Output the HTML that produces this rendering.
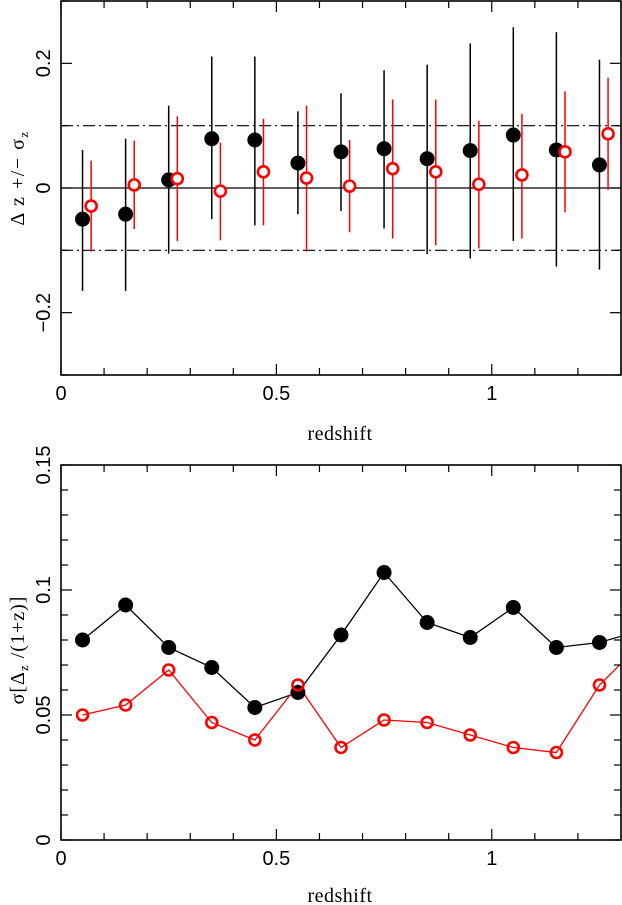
<!DOCTYPE html>
<html><head><meta charset="utf-8"><style>
body{margin:0;background:#fff;}
svg{display:block;font-family:"Liberation Sans",sans-serif;}
.tl{font-size:20px;fill:#000;}
.ax{font-family:"Liberation Serif",serif;font-size:20px;fill:#000;}
</style></head><body>
<svg id="fig" width="622" height="905" viewBox="0 0 622 905"></svg>
<script>
// ---- data ----
const binsBlack = [0.05,0.15,0.25,0.35,0.45,0.55,0.65,0.75,0.85,0.95,1.05,1.15,1.25];
const binsRed = [0.07,0.17,0.27,0.37,0.47,0.57,0.67,0.77,0.87,0.97,1.07,1.17,1.27];
const dzBlack = [-0.05,-0.042,0.013,0.079,0.077,0.04,0.058,0.063,0.047,0.06,0.085,0.061,0.037];
const dzBlackHi = [0.061,0.079,0.132,0.211,0.211,0.123,0.152,0.189,0.198,0.232,0.258,0.25,0.206];
const dzBlackLo = [-0.165,-0.165,-0.105,-0.05,-0.06,-0.042,-0.037,-0.065,-0.106,-0.113,-0.085,-0.126,-0.131];
const dzRed = [-0.029,0.005,0.015,-0.005,0.026,0.016,0.003,0.031,0.026,0.006,0.021,0.058,0.087];
const dzRedHi = [0.044,0.076,0.115,0.073,0.111,0.132,0.077,0.142,0.142,0.108,0.119,0.155,0.177];
const dzRedLo = [-0.102,-0.066,-0.085,-0.084,-0.06,-0.102,-0.071,-0.081,-0.092,-0.097,-0.081,-0.039,-0.003];
const binsSigma = [0.05,0.15,0.25,0.35,0.45,0.55,0.65,0.75,0.85,0.95,1.05,1.15,1.25,1.35];
const sigmaBlack = [0.080,0.094,0.077,0.069,0.053,0.059,0.082,0.107,0.087,0.081,0.093,0.077,0.079,0.084];
const sigmaRed = [0.050,0.054,0.068,0.047,0.040,0.062,0.037,0.048,0.047,0.042,0.037,0.035,0.062,0.079];
const xTicks = [0,0.5,1];
const xTickLabels = ["0","0.5","1"];
const yTopTicks = [-0.2,0,0.2];
const yTopLabels = ["\u22120.2","0","0.2"];
const yBotTicks = [0,0.05,0.1,0.15];
const yBotLabels = ["0","0.05","0.1","0.15"];

const NS="http://www.w3.org/2000/svg";
const svg=document.getElementById('fig');
function mk(tag,attrs,parent){const e=document.createElementNS(NS,tag);for(const k in attrs)e.setAttribute(k,attrs[k]);(parent||svg).appendChild(e);return e;}

const L=61,R=621;
const xs=v=>L+v*(R-L)/1.3;
const T1=1,B1=375; const ys1=v=>T1+(0.3-v)*(B1-T1)/0.6;
const T2=465,B2=840; const ys2=v=>B2-v*(B2-T2)/0.15;

const defs=mk('defs',{});
const c1=mk('clipPath',{id:'c1'},defs);mk('rect',{x:L,y:T1,width:R-L,height:B1-T1},c1);
const c2=mk('clipPath',{id:'c2'},defs);mk('rect',{x:L,y:T2,width:R-L,height:B2-T2},c2);

// ---------- top panel ----------
const g1=mk('g',{});


let e;
e=mk('line',{x1:L,x2:R,y1:ys1(0),y2:ys1(0),stroke:'#000','stroke-width':1.3},g1);

[0.1,-0.1].forEach(v=>{e=mk('line',{x1:L,x2:R,y1:ys1(v),y2:ys1(v),stroke:'#000','stroke-width':1.2,'stroke-dasharray':'12 4 2 4'},g1);
});
const d1=mk('g',{'clip-path':'url(#c1)'},g1);
binsBlack.forEach((b,i)=>{
 e=mk('line',{x1:xs(b),x2:xs(b),y1:ys1(dzBlackHi[i]),y2:ys1(dzBlackLo[i]),stroke:'#000','stroke-width':1.5},d1);
 
 e=mk('circle',{cx:xs(b),cy:ys1(dzBlack[i]),r:7.5,fill:'#000'},d1);
 
});
binsRed.forEach((b,i)=>{
 e=mk('line',{x1:xs(b),x2:xs(b),y1:ys1(dzRedHi[i]),y2:ys1(dzRedLo[i]),stroke:'#f00','stroke-width':1.5},d1);
 
 e=mk('circle',{cx:xs(b),cy:ys1(dzRed[i]),r:5.5,fill:'#fff',stroke:'#f00','stroke-width':2.6},d1);
 
});

function frame(T,B,yticks,ysf,ylabels,minorY,title,titleY,titleOff,ls){
 let f=mk('rect',{x:L,y:T,width:R-L,height:B-T,fill:'none',stroke:'#000','stroke-width':1.6});
 
 for(let k=0;k<=13;k++){const v=k/10;const len=(k%5==0)?11:7;
  mk('line',{x1:xs(v),x2:xs(v),y1:B,y2:B-len,stroke:'#000','stroke-width':1.2});
  mk('line',{x1:xs(v),x2:xs(v),y1:T,y2:T+len,stroke:'#000','stroke-width':1.2});}
 minorY.forEach(v=>{mk('line',{x1:L,x2:L+7,y1:ysf(v),y2:ysf(v),stroke:'#000','stroke-width':1.2});
  mk('line',{x1:R,x2:R-7,y1:ysf(v),y2:ysf(v),stroke:'#000','stroke-width':1.2});});
 yticks.forEach(v=>{mk('line',{x1:L,x2:L+11,y1:ysf(v),y2:ysf(v),stroke:'#000','stroke-width':1.2});
  mk('line',{x1:R,x2:R-11,y1:ysf(v),y2:ysf(v),stroke:'#000','stroke-width':1.2});});
 xTicks.forEach((v,i)=>{const t=mk('text',{x:xs(v),y:B+25,'text-anchor':'middle',class:'tl'});t.textContent=xTickLabels[i];
  });
 yticks.forEach((v,i)=>{const y=ysf(v);const t=mk('text',{x:0,y:0,'text-anchor':'middle',class:'tl',transform:`translate(50,${y}) rotate(-90)`});t.textContent=ylabels[i];
  });
 const xt=mk('text',{x:340,y:B+titleOff,'text-anchor':'middle',class:'ax','letter-spacing':'0.5'});xt.textContent='redshift';
 
 const yt=mk('text',{x:0,y:0,'text-anchor':'middle',class:'ax','letter-spacing':ls,transform:`translate(24,${titleY}) rotate(-90)`});yt.innerHTML=title;
 
}
frame(T1,B1,yTopTicks,ys1,yTopLabels,[-0.3,-0.1,0.1,0.3],'Δ z  +/−  σ<tspan font-size="13" dy="4">z</tspan>',178,65,'1.5');

// ---------- bottom panel ----------
const g2=mk('g',{'clip-path':'url(#c2)'});


function pts(arr){return binsSigma.map((b,i)=>xs(b)+','+ys2(arr[i])).join(' ');}
e=mk('polyline',{points:pts(sigmaBlack),fill:'none',stroke:'#000','stroke-width':1.3},g2);

e=mk('polyline',{points:pts(sigmaRed),fill:'none',stroke:'#f00','stroke-width':1.3},g2);

binsSigma.forEach((b,i)=>{
 e=mk('circle',{cx:xs(b),cy:ys2(sigmaBlack[i]),r:7.5,fill:'#000'},g2);
 
});
binsSigma.forEach((b,i)=>{
 e=mk('circle',{cx:xs(b),cy:ys2(sigmaRed[i]),r:5.5,fill:'none',stroke:'#f00','stroke-width':2.6},g2);
 
});
const minor2=[];for(let k=1;k<15;k++){if(k%5)minor2.push(k/100);}
frame(T2,B2,yBotTicks,ys2,yBotLabels,minor2,'σ[Δ<tspan font-size="13" dy="4">z</tspan><tspan dy="-4">  /(1+z)]</tspan>',650,62,'1');
</script>
</body></html>
